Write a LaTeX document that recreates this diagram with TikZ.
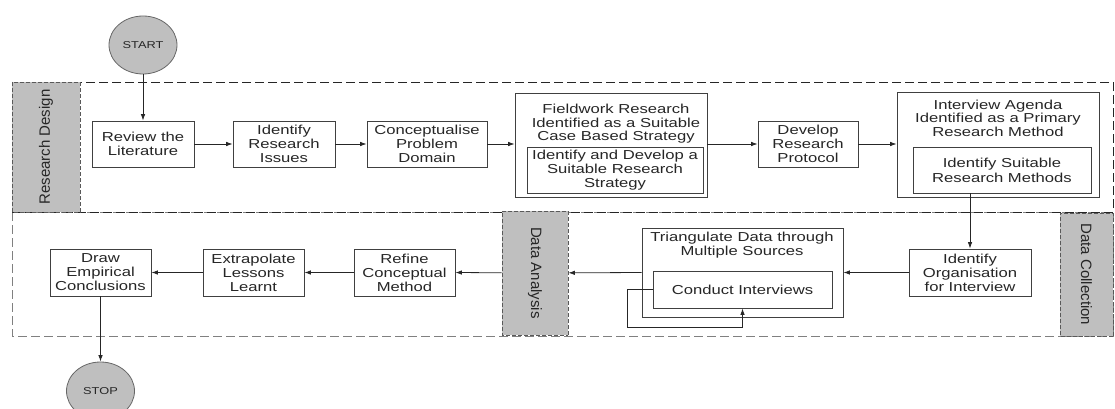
\documentclass[tikz,border=0pt]{standalone}
\usepackage{fontspec}
\setmainfont{Liberation Sans}[FakeStretch=1.28]
\newfontfamily\lanefont{Liberation Sans}
\usetikzlibrary{positioning,shapes.geometric,arrows.meta}

\begin{document}
\begin{tikzpicture}[
  x=1pt, y=-1pt,
  every node/.style={inner sep=0pt, align=center, text=black!85,
   font=\fontsize{13}{14}\selectfont},
  box/.style={draw=black!75, line width=0.8pt, fill=white, minimum height=46pt},
  group/.style={draw=black!75, line width=0.8pt},
  title/.style={font=\fontsize{13}{13.5}\selectfont},
  term/.style={ellipse, draw=black!60, fill=black!25, line width=0.8pt,
   minimum width=68pt, minimum height=58pt, font=\fontsize{10}{12}\selectfont},
  lane/.style={dash pattern=on 9pt off 4pt, line width=0.8pt},
  lanelabel/.style={draw=black!65, dash pattern=on 4pt off 2pt, fill=black!25,
   line width=0.8pt, font=\lanefont\fontsize{15}{18}\selectfont},
  arr/.style={-{Latex[length=6.5pt,width=4.5pt]}, draw=black!85, line width=0.8pt}
  ]
  \useasboundingbox (0,0) rectangle (1115,409);

  \draw[lane, draw=black!50] (12,212) rectangle (1113,336);
  \draw[lane, draw=black!85] (12,82) rectangle (1113,212);

  \node[lanelabel, rotate=90, minimum width=130pt, minimum height=68pt] (RDtext) at (46,147) {Research Design};
  \node[lanelabel, rotate=-90, minimum width=124pt, minimum height=66pt] (DAtext) at (535,273) {Data Analysis};
  \node[lanelabel, rotate=-90, minimum width=123pt, minimum height=53pt] (DCtext) at (1086.5,274.5) {Data Collection};

  \node[term] (Start) at (143,45) {START};
  \node[box, minimum width=102pt] (Rev) at (143,144) {Review the\\Literature};
  \node[box, minimum width=102pt] (Iss) at (284,144) {Identify\\Research\\Issues};
  \node[box, minimum width=120pt] (Con) at (427,144) {Conceptualise\\Problem\\Domain};
  \node[group, minimum width=192pt, minimum height=104pt] (Fw) at (611,145) {};
  \node[title] (FwT) at (616,124) {Fieldwork Research\\Identified as a Suitable\\Case Based Strategy};
  \node[box, minimum width=176pt] (FwIn) at (615,170) {Identify and Develop a\\Suitable Research\\Strategy};
  \node[box, minimum width=100pt] (Prot) at (808,144) {Develop\\Research\\Protocol};
  \node[group, minimum width=202pt, minimum height=105pt] (Ag) at (998,144.5) {};
  \node[title] (AgT) at (998,118) {Interview Agenda\\Identified as a Primary\\Research Method};
  \node[box, minimum width=178pt, font=\fontsize{13}{15}\selectfont] (AgIn) at (1002,170) {Identify Suitable\\Research Methods};

  \node[box, minimum width=122pt, minimum height=47pt] (Org) at (970,272.5) {Identify\\Organisation\\for Interview};
  \node[group, minimum width=201pt, minimum height=89pt] (Tri) at (742.5,272.5) {};
  \node[title] (TriT) at (742,245) {Triangulate Data through\\Multiple Sources};
  \node[box, minimum width=179pt, minimum height=37pt] (TriIn) at (742.5,289.5) {Conduct Interviews};
  \node[box, minimum width=101pt, minimum height=47pt] (Ref) at (404.5,272.5) {Refine\\Conceptual\\Method};
  \node[box, minimum width=101pt, minimum height=47pt] (Ext) at (253.5,272.5) {Extrapolate\\Lessons\\Learnt};
  \node[box, minimum width=101pt, minimum height=47pt] (Concl) at (100.5,272.5) {Draw\\Empirical\\Conclusions};
  \node[term] (Stop) at (100.5,391) {STOP};

  \draw[arr] (Start) -- (Rev);
  \draw[arr] (Rev) -- (Iss);
  \draw[arr] (Iss) -- (Con);
  \draw[arr] (Con.east) -- (Con.east -| Fw.west);
  \draw[arr] (Prot.west -| Fw.east) -- (Prot.west);
  \draw[arr] (Prot.east) -- (Prot.east -| Ag.west);
  \draw[arr] (Org.north |- AgIn.south) -- (Org.north);
  \draw[arr] (Org.west) -- (Org.west -| Tri.east);
  \draw[arr] (Tri.west) -- (DAtext);
  \draw[arr] (DAtext) -- (Ref.east);
  \draw[arr] (Ref) -- (Ext);
  \draw[arr] (Ext) -- (Concl);
  \draw[arr] (Concl) -- (Stop);
  \draw[arr] (TriIn.west) -- ++(-25,0) -- ++(0,38) -| (TriIn.south);
\end{tikzpicture}
\end{document}
